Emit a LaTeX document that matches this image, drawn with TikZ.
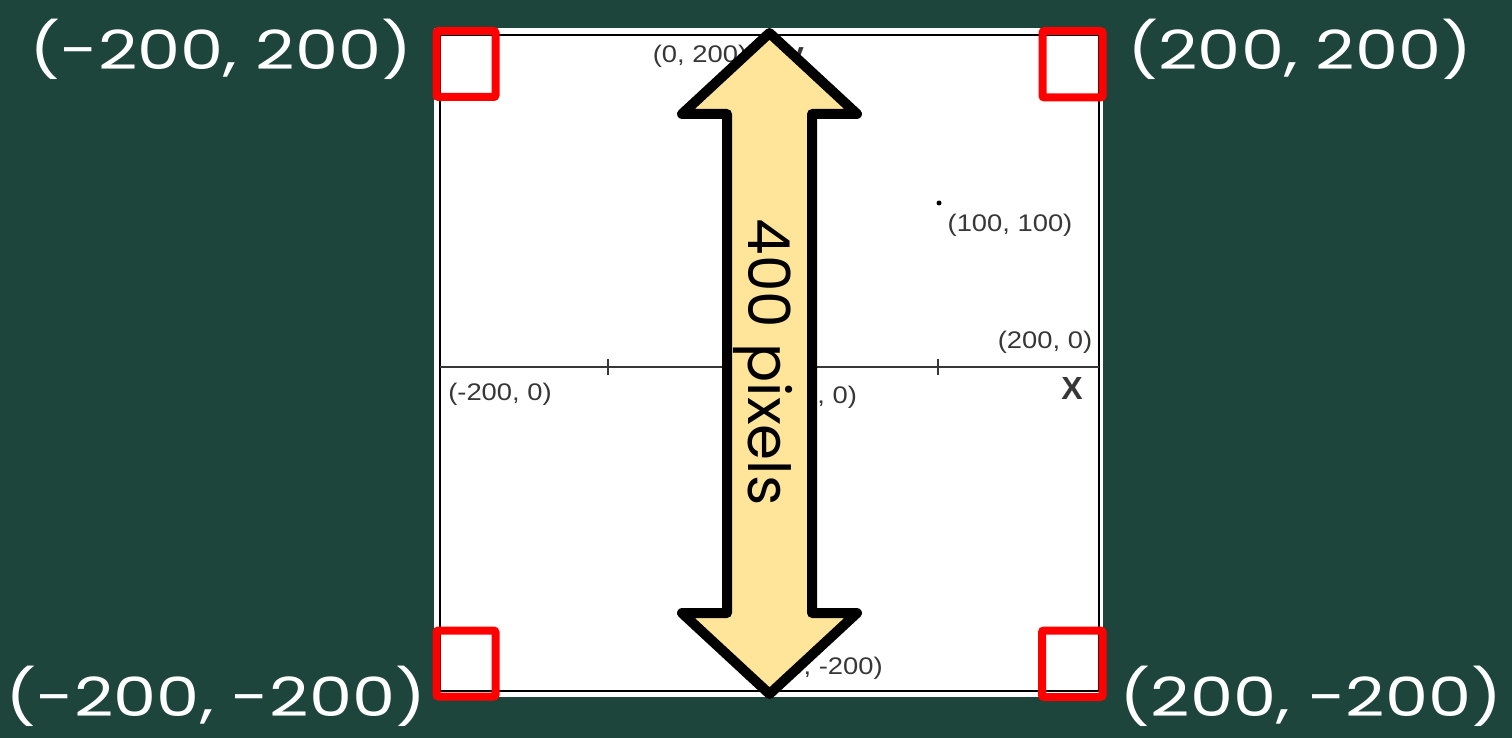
\documentclass[tikz,border=0pt]{standalone}
\usepackage{fontspec}
\usepackage{graphicx}
\setmainfont{Poppins}
\newfontfamily\plotfont{Liberation Sans}
\definecolor{bggreen}{RGB}{29,69,59}
\definecolor{arrowfill}{RGB}{255,229,153}
\definecolor{plotgray}{RGB}{55,55,55}
\newcommand{\plotlbl}[1]{\scalebox{1.14}[1]{#1}}
\newcommand{\cornertxt}[1]{\scalebox{1.27}[1]{#1}}
\begin{document}
\begin{tikzpicture}[x=1pt,y=-1pt,
  smalllbl/.style={inner sep=0pt, text=plotgray, font=\plotfont\fontsize{24}{24}\selectfont},
  axislbl/.style={inner sep=0pt, text=plotgray, font=\plotfont\bfseries\fontsize{32}{32}\selectfont},
  cornerlbl/.style={inner sep=0pt, anchor=base, text=white, font=\fontsize{54}{54}\selectfont},
  redbox/.style={draw=red, line width=8pt, rounded corners=2pt},
  bigarrow/.style={draw=black, fill=arrowfill, line width=10pt, line join=round},
  axisline/.style={draw=plotgray, line width=2pt},
  tickline/.style={draw=plotgray, line width=1.5pt}]
\useasboundingbox (0,0) rectangle (1512,738);
\fill[bggreen] (0,0) rectangle (1512,738);
% canvas
\fill[white] (434,28) rectangle (1103,697);
\draw[black, line width=2pt] (440,35) rectangle (1099,691);
% x axis
\coordinate (axL) at (440,367);
\coordinate (axR) at (1099,367);
\draw[axisline] (axL) -- (axR);
\coordinate (t1a) at (608,359); \coordinate (t1b) at (608,375);
\coordinate (t2a) at (938,359); \coordinate (t2b) at (938,375);
\draw[tickline] (t1a) -- (t1b);
\draw[tickline] (t2a) -- (t2b);
% point
\fill[black] (939,203) circle (2.5);
% plot labels
\node[smalllbl] (l100) at (1010,225) {\plotlbl{(100, 100)}};
\node[smalllbl] (l200x) at (1045,342) {\plotlbl{(200, 0)}};
\node[smalllbl] (lm200x) at (500,394) {\plotlbl{(-200, 0)}};
\node[smalllbl] (l00) at (825,397) {\plotlbl{(0, 0)}};
\node[smalllbl] (l200y) at (700,56) {\plotlbl{(0, 200)}};
\node[smalllbl] (lm200y) at (831,668) {\plotlbl{(0, -200)}};
\node[axislbl] (xlbl) at (1072,388) {X};
\node[axislbl, anchor=base] (ylbl) at (795,65) {y};
% big double arrow
\draw[bigarrow] (769.5,33) -- (857,114) -- (812,114) -- (812,613) -- (857,613)
  -- (769.5,694) -- (682,613) -- (727,613) -- (727,114) -- (682,114) -- cycle;
\node[rotate=-90, inner sep=0pt, font=\fontsize{58}{58}\selectfont] (len) at (763,362) {400 pixels};
% red corner boxes
\draw[redbox] (436.5,31) rectangle (495.5,97);
\draw[redbox] (1042.5,31) rectangle (1102.5,97.5);
\draw[redbox] (436.5,630.5) rectangle (495.5,696.5);
\draw[redbox] (1042,630.5) rectangle (1102.5,697);
% corner labels
\node[cornerlbl] (ctl) at (221,70) {\cornertxt{(-200, 200)}};
\node[cornerlbl] (ctr) at (1300,70) {\cornertxt{(200, 200)}};
\node[cornerlbl] (cbl) at (216,716) {\cornertxt{(-200, -200)}};
\node[cornerlbl] (cbr) at (1311,716) {\cornertxt{(200, -200)}};
\end{tikzpicture}
\end{document}
